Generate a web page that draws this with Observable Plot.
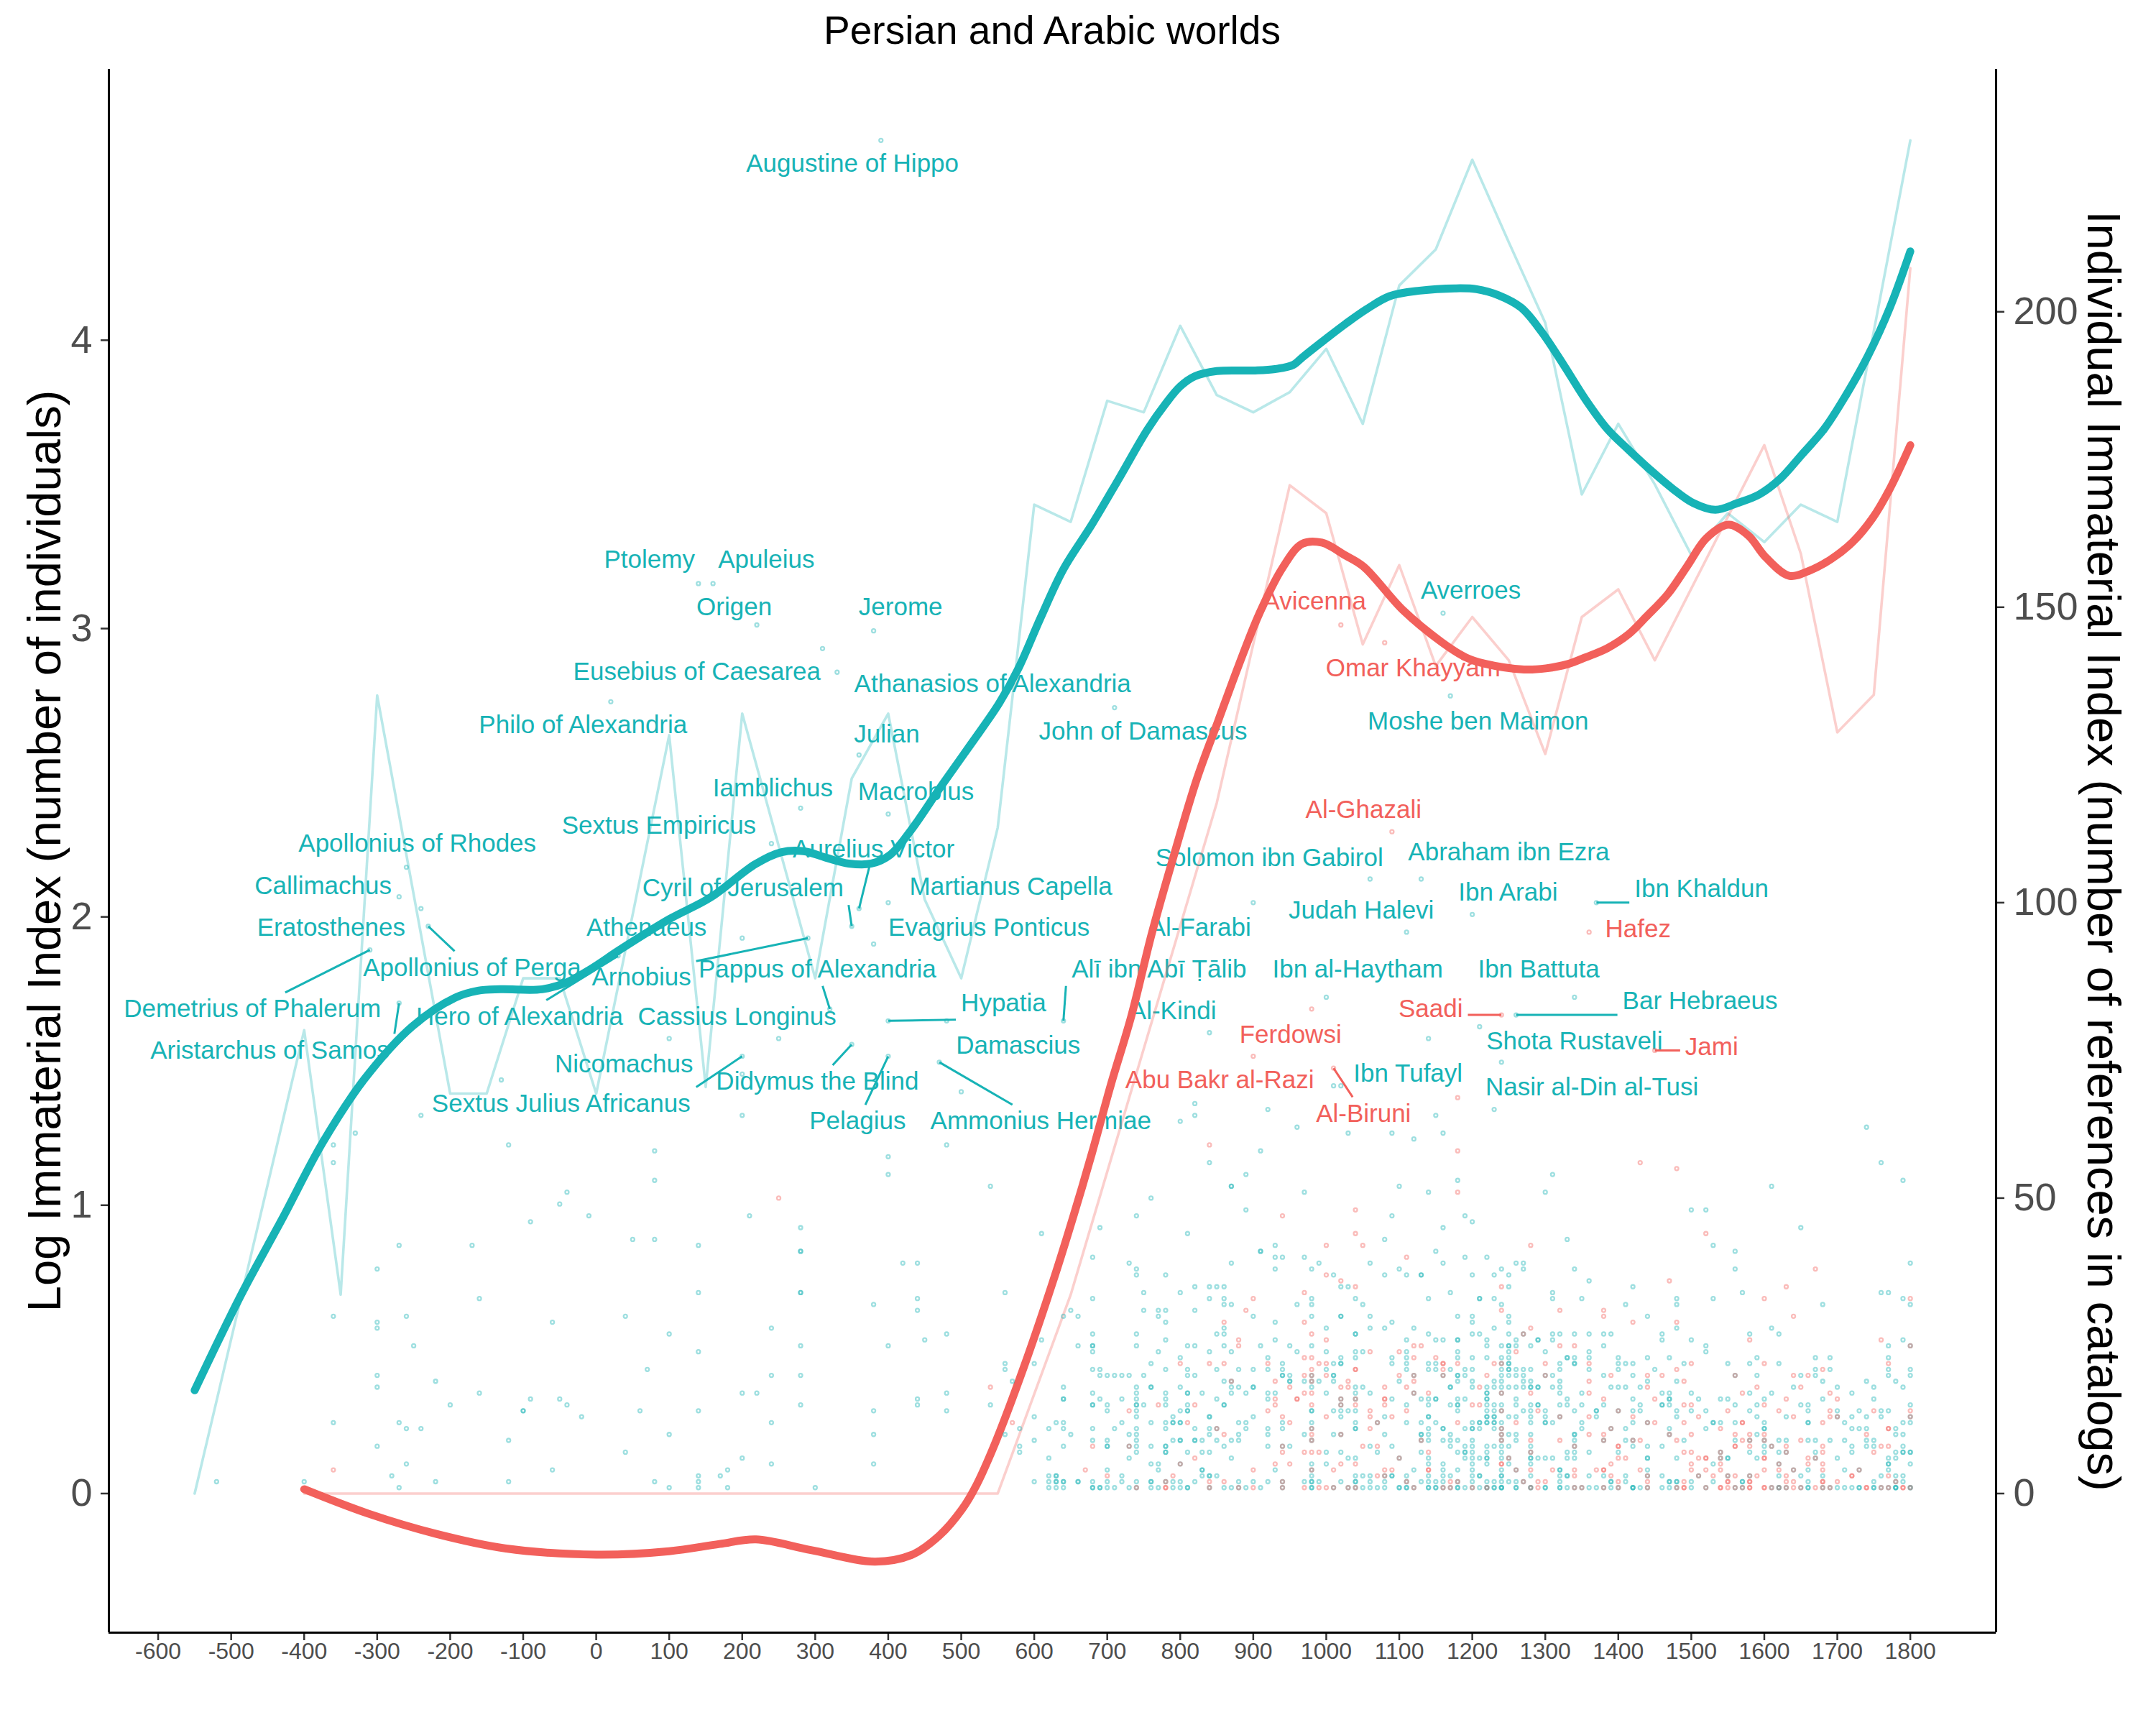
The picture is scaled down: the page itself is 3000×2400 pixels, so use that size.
<!DOCTYPE html>
<html><head><meta charset="utf-8">
<script src="https://cdn.jsdelivr.net/npm/d3@7"></script>
<script src="https://cdn.jsdelivr.net/npm/@observablehq/plot@0.6"></script>
<style>
html,body{margin:0;padding:0;background:#fff;}
body{font-family:"Liberation Sans",Arial,Helvetica,sans-serif;}
#title{box-sizing:border-box;width:3000px;height:84px;padding-left:151px;padding-right:223px;display:flex;align-items:center;justify-content:center;font-size:55px;color:#000;}
</style></head><body>
<div id="title"></div>
<div id="chart"></div>
<script>
// ---------------- DATA ----------------
const chartTitle = "Persian and Arabic worlds";
const leftAxisTitle = "Log Immaterial Index (number of individuals)";
const rightAxisTitle = "Individual Immaterial Index (number of references in catalogs)";
const xTickValues = [-600,-500,-400,-300,-200,-100,0,100,200,300,400,500,600,700,800,900,1000,1100,1200,1300,1400,1500,1600,1700,1800];
const leftTickValues = [0,1,2,3,4];
const rightTickValues = [0,50,100,150,200];

// raw (thin) series, log index per period
const tealRawYears  = [-550,-400,-350,-300,-200,-150,-100,-50,0,100,150,200,300,350,400,450,500,550,600,650,700,750,800,850,900,950,1000,1050,1100,1150,1200,1250,1300,1350,1400,1450,1500,1550,1600,1650,1700,1800];
const tealRawValues = [0,1.607,0.69,2.768,1.387,1.387,1.787,1.787,1.387,2.63,1.41,2.705,1.787,2.48,2.705,2.06,1.787,2.31,3.43,3.37,3.79,3.75,4.05,3.81,3.75,3.82,3.97,3.71,4.19,4.315,4.626,4.34,4.06,3.465,3.71,3.50,3.255,3.40,3.30,3.43,3.37,4.693];
const redRawYears  = [-400,550,650,850,950,1000,1050,1100,1150,1200,1250,1300,1350,1400,1450,1600,1650,1700,1750,1800];
const redRawValues = [0,0,0.69,2.395,3.497,3.40,2.945,3.22,2.87,3.04,2.89,2.565,3.04,3.136,2.89,3.636,3.26,2.64,2.77,4.25];

// smoothed (thick) series
const tealSmoothYears  = [-550,-487,-430,-374,-317,-252,-193,-162,-131,-74,-41,-7,33,100,157,218,253,284,315,346,377,403,431,473,513,552,578,609,640,679,716,755,780,800,820,850,900,930,955,967,997,1027,1056,1087,1128,1176,1206,1236,1267,1295,1325,1355,1385,1414,1444,1474,1503,1533,1563,1593,1622,1652,1682,1712,1742,1772,1800];
const tealSmoothValues = [0.358,0.686,0.953,1.22,1.439,1.62,1.72,1.744,1.749,1.749,1.772,1.82,1.887,1.992,2.068,2.183,2.224,2.228,2.205,2.185,2.185,2.216,2.30,2.455,2.598,2.741,2.86,3.039,3.206,3.361,3.52,3.69,3.78,3.84,3.875,3.893,3.895,3.90,3.915,3.94,4.00,4.058,4.109,4.153,4.172,4.18,4.177,4.156,4.113,4.029,3.915,3.795,3.692,3.62,3.55,3.486,3.435,3.412,3.435,3.465,3.52,3.605,3.692,3.81,3.946,4.113,4.308];
const redSmoothYears  = [-400,-313,-219,-125,0,100,169,219,294,382,432,470,501,521,547,586,626,654,679,705,733,761,789,823,852,880,908,939,967,994,1026,1051,1105,1158,1191,1217,1271,1301,1331,1355,1385,1414,1438,1468,1494,1521,1551,1578,1602,1634,1661,1691,1721,1748,1772,1800];
const redSmoothValues = [0.015,-0.069,-0.14,-0.19,-0.212,-0.2,-0.175,-0.159,-0.196,-0.236,-0.213,-0.146,-0.055,0.03,0.178,0.44,0.738,0.965,1.18,1.418,1.656,1.942,2.193,2.48,2.68,2.872,3.05,3.206,3.294,3.298,3.254,3.215,3.064,2.953,2.90,2.878,2.858,2.862,2.877,2.90,2.932,2.98,3.04,3.12,3.215,3.314,3.36,3.323,3.247,3.183,3.20,3.24,3.30,3.382,3.485,3.636];

// individuals: [year, reference counts...]
const tealPoints = [
[-520,2],[-400,2],[-360,12,30,56,59],[-330,61],[-300,8,18,20,28,29,38],[-280,3],[-270,1,12,42],[-260,5,11,30],[-250,25],[-240,11,64],[-220,2,19],[-200,15],[-170,42],[-160,17,33],[-130,70],[-120,2,9,59],[-100,14,14],[-90,16,46],[-60,4,29],[-50,16,49],[-40,15,51],[-20,13],[-10,47],
[40,7,30],[50,43],[60,14],[70,21],[80,2,43,53,58],[100,1,10,27],[140,1,2,3,14,24,34,42],[170,3],[180,1,4],[200,6,17,64,71],[210,47],[220,17],[240,5,12,20,28],[280,15,20,25,34,34,41,41,45],[300,1],[380,5,10,14,32],[400,25,54,57],[420,39],[440,15,16,31,33,39],[450,26],[480,14,17,27,59],[500,68],[540,15,52],
[560,10,21,22,34],[570,19],[580,7,8,11],[600,2,9,13,22],[610,26,44],[620,1,2,3,6,11],[630,1,2,2,3,3,12],[640,1,2,2,8,11,12,16,16,18,30],[650,10,31],[660,2,2,25,30],[680,1,1,2,9,11,15,15,17,21,24,25,25,27,33,40],[690,1,1,16,20,21,45],[700,1,2,4,8,8,9,14,15,20],[710,1,11,20],[720,2,3,12,16,20],[730,1,6,8,10,20,39],[740,1,2,7,8,9,10,11,13,14,15,15,16,17,18,25,27,37,38,47],[750,15,20,31,34],[760,1,2,2,5,8,12,18,18,22,50],[770,1,4,5,24,30,31],[780,2,7,7,8,8,11,12,15,16,17,21,26,29,31,37],[790,1,2,9,12,12,13],[800,1,2,5,9,9,12,12,14,18,23,34,63],[810,1,1,7,14,14,15,17,17,20,21,25,44],[820,2,9,9,11,20,25,31,35,64,66],[830,3,4,4,7,9,17],[840,1,3,3,7,10,11,13,13,24,33,35,56],[850,3,9,11,16,21,27,35],[860,1,8,15,15,19,25,27,28,32,33,35],[870,1,6,9,17,18,19,24,32,39,52,52],[880,1,2,9,10,12,18,21],[890,1,11,12,17,48,54],[900,2,13,18,18,21,30],[910,1,25,41,41,58],[920,2,8,10,11,16,17,21,23,65],[930,4,17,26,29,38,40,42],[940,1,2,8,11,12,20,20,21,22,40],[950,8,19,19,20,25],[960,24,32,62],[970,2,10,19,40,51],[980,1,1,2,2,3,4,5,9,11,12,14,14,18,19,20,25,30,32,33,38],[990,2,19,39],
[1000,5,7,17,21,24,28],[1010,1,10,14,19,20,20,22,37,69],[1020,2,7,10,13,14,15,16,22,22,23,30,30,35,69],[1030,1,6,14,35,61],[1040,1,2,2,3,6,11,11,12,14,16,17,18,23,24,27,27,33],[1050,1,3,18,24,32],[1060,1,2,3,8,17,28,30,39],[1070,1,7,12],[1080,1,2,3,10,13,28,37,43],[1090,3,3,8,16,22,23,29,47,61],[1100,1,1,6,19,38,52],[1110,1,1,2,3,12,15,21,22,23,24,26,37],[1120,1,4,17,20,28,60],[1130,2,7,9,10,10,12,16,37,37],[1140,1,1,2,3,5,6,9,10,11,13,13,15,16,21,22,27,33,51],[1150,1,1,2,12,16,16,21,22,26,41,64],[1160,1,2,3,4,5,9,11,11,20,26,39,45,61],[1170,1,3,8,9,10,15,18,18,21,34],[1180,1,1,2,4,7,9,14,15,15,16,19,20,20,23,24,26,26,30,53],[1190,1,6,7,7,8,11,16,20,21,40,47],
[1200,1,2,3,4,5,6,7,8,9,11,11,12,18,19,21,23,27,29,30,37,46],[1210,1,3,3,6,11,12,12,27,33,33],[1220,1,1,2,5,6,6,7,8,12,12,13,13,14,15,16,16,17,17,18,23,25,26,40],[1230,1,1,2,8,11,12,12,13,13,14,15,18,19,28,33,37,65],[1240,1,1,1,2,3,3,4,6,7,8,9,10,11,12,14,15,17,18,19,20,21,22,23,25,32,38],[1250,2,5,6,8,10,13,18,20,21,21,22,22,23,24,25,25,27,29,30,35,37],[1260,1,1,2,4,9,10,13,15,16,18,20,21,25,26,39],[1270,2,14,18,19,20,21,27,38,39],[1280,1,1,3,5,6,6,7,8,10,12,13,14,15,18,18,19,21,25],[1290,6,15,15,18,18,26,26],[1300,1,1,6,12,12,13,14,20,24,51],[1310,6,12,18,20,26,27,33,34,54],[1320,1,1,2,3,4,4,13,15,17,18,19,21,22,27],[1330,1,3,3,6,7,15,16,23,23,43],[1340,1,6,7,8,9,10,10,14,22,22,23,27,38],[1350,1,11,12,15,17,33],[1360,1,3,7,21,23,24,27,36],[1370,1,13,14,14],[1380,1,3,9,15,20,25,27],[1390,1,2,2,11,18,27],[1400,1,7,14,18,21,22,23],[1410,2,3,9,11,18,22,32],[1420,1,1,1,8,9,12,14,16,20,22,35],[1430,1,14,15,18],[1440,1,3,4,6,6,8,12,19,23,30],[1450,21],[1460,1,3,8,15,15,17,26,27],[1470,1,2,2,10,11,15,16,16,17,23],[1480,1,2,2,6,13,14,19,28,32,33],[1490,9,22],[1500,1,2,14,17,26,48],[1510,3,16],[1520,1,11,14,24,25,48],[1530,2,5,12,12,33,42],[1540,6,7,12,16],[1550,3,6,6,16,22],[1560,1,9,12,15,20,38,41],[1570,1,2,2,34],[1580,3,7,9,14,17,22,27],[1590,6,10,13,15,20,23],[1600,7,8,9,11,11,12,16],[1610,1,8,17,28,52],[1620,1,1,3,5,7,9,22,27],[1630,1,7,9,13],[1640,4,18],[1650,1,3,15,20,45],[1660,1,1,2,4,9,12,12,14,15],[1670,6,7,9,20,21,23],[1680,1,3,16,19,32],[1690,1,9,21,23],[1700,1,6,13,14,18],[1710,1,4,9,12],[1720,1,7,8,11,13,17],[1730,1,1,4,11,14],[1740,8,9,11,13,19,62],[1750,1,1,2,8,9,16,18],[1760,1,3,13,14,34,56],[1770,1,4,5,5,6,14,20,21,23,25,34],[1780,1,1,1,2,3,6,7,10,11,19],[1790,2,3,7,7,8,10,12,18,26,33,53],[1800,1,1,5,7,7,12,13,15,20,21,25,32,39]
];
const redPoints = [
[-360,4],[250,50],[540,18],[570,12],[670,4],[680,8],[700,3],[730,8,14],[740,1],[770,15],[780,1,1,2],[790,3],[800,5,22],[810,12],[820,6,15],[840,1,2,22,59],[850,11],[860,2,10,22,29],[870,19],[880,1,25,26],[890,31],[900,1,4,33],[920,14,22],[930,5,15,16,19],[940,1,2,7,8,13,47],[950,5,12,18],[960,16,16],[970,1,7,17,20,23,29,34],[980,4,7,9,10,11,15,17,19,20,21,23,27],[990,1,7,22],
[1000,1,13,20,22,26,37,42],[1010,1,4],[1020,5,10,15,16,18,36],[1030,1,18,19],[1040,1,5,15,16,21,21,35,44,48],[1050,8,42],[1060,11,13,14,24],[1070,3,8,12],[1080,3,4,15,16,16,18],[1090,4,13],[1100,6,20,24],[1110,2,14,18,40],[1120,1,17,19,20,23,25],[1130,9,25],[1140,4,4,7,17],[1150,23],[1160,1,20,21,22,22],[1170,1,2],[1180,2,12,22,51,58,67],
[1200,1,15],[1210,15,18],[1220,1,20],[1230,22],[1240,5,5,9,10,11,14,17,22,31,35],[1250,6],[1260,4,12,24],[1270,2,27],[1280,1,4,7,9,17,28,42],[1290,1,2,14],[1300,2,20,22],[1310,4],[1320,9,13,25,31],[1340,1,3,4,8,25],[1350,1],[1360,10,13,17,19,22],[1370,4],[1380,1,4,4,9,10,16,30,31],[1390,3,5,11,20],[1400,1,2,6,8,8,14],[1410,6],[1420,9,13,29],[1430,4,9,56],[1440,1,2,3,12,18,20],[1450,12,16],[1460,20],[1470,10,36],[1480,1,9,21,29,55],[1490,1,1,2,7,12,15,19],[1500,4,5,7,10,15,22],[1510,3,6,13],[1520,1,4,6,6,44],[1530,3],[1540,1,1,4,5,6,7,11],[1550,1,2,2,3,14],[1560,1,3,8,8,10,20],[1570,1,9,12,12,17],[1580,1,1,2,2,3,8,9,10,26],[1590,3,18],[1600,1,1,4,6,6,9,10,15,22,33],[1610,1,8],[1620,1,4,5,14],[1630,1,2,3,7,8,16,35],[1640,1,2,4,13,20,30],[1650,1,9,18],[1660,5,6,20],[1670,1,6,38],[1680,1,2,2,4,5,7,8,12,21],[1690,1,13,14,17],[1700,2,13,16],[1720,3,3],[1730,4],[1740,1,1,10],[1750,7,14],[1760,1,8,26],[1770,1,3,8,11,11,22],[1780,2],[1790,1,1],[1800,1,13,14,25,33]
];

// labelled individuals: [name, group, year, references, label year, label position (references)]
const labelRows = [
["Augustine of Hippo","t",390,229,351,225],
["Ptolemy","t",140,154,73,158],
["Apuleius","t",160,154,233,158],
["Origen","t",220,147,189,150],
["Jerome","t",380,146,417,150],
["Eusebius of Caesarea","t",310,143,138,139],
["Athanasios of Alexandria","t",330,139,543,137],
["Philo of Alexandria","t",20,134,-18,130],
["John of Damascus","t",710,133,749,129],
["Julian","t",360,125,398,128.5],
["Iamblichus","t",280,116,242,119.3],
["Macrobius","t",400,115,438,118.7],
["Sextus Empiricus","t",240,110,86,113],
["Apollonius of Rhodes","t",-260,106,-245,110],
["Aurelius Victor","t",360,99,380,109],
["Cyril of Jerusalem","t",350,96,201,102.4],
["Martianus Capella","t",400,100,568,102.7],
["Callimachus","t",-270,101,-374,102.8],
["Eratosthenes","t",-240,99,-363,95.7],
["Apollonius of Perga","t",-230,96,-170,89],
["Demetrius of Phalerum","t",-310,92,-471,82],
["Aristarchus of Samos","t",-270,83,-447,75],
["Athenaeus","t",200,94,69,95.7],
["Hero of Alexandria","t",30,91,-105,80.7],
["Arnobius","t",290,94,62,87.3],
["Pappus of Alexandria","t",320,82,303,88.7],
["Evagrius Ponticus","t",380,93,538,95.7],
["Cassius Longinus","t",250,77,193,80.7],
["Hypatia","t",400,80,558,83],
["Nicomachus","t",100,77,38,72.7],
["Sextus Julius Africanus","t",200,74,-48,66],
["Didymus the Blind","t",350,76,303,69.7],
["Pelagius","t",400,74,358,63],
["Ammonius Hermiae","t",470,73,609,63],
["Damascius","t",480,80,578,75.8],
["Alī ibn Abī Ṭālib","t",640,80,771,88.7],
["Al-Farabi","t",900,100,827,95.7],
["Al-Kindi","t",840,78,790,81.7],
["Solomon ibn Gabirol","t",1060,104,922,107.5],
["Abraham ibn Ezra","t",1130,104,1250,108.5],
["Judah Halevi","t",1110,95,1048,98.7],
["Ibn Arabi","t",1200,98,1249,101.7],
["Ibn Khaldun","t",1370,100,1514,102.3],
["Ibn al-Haytham","t",1000,84,1043,88.7],
["Ibn Battuta","t",1340,84,1291,88.7],
["Bar Hebraeus","t",1260,81,1512,83.3],
["Shota Rustaveli","t",1210,79,1340,76.5],
["Nasir al-Din al-Tusi","t",1240,73,1364,68.7],
["Ibn Tufayl","t",1140,77,1112,71],
["Averroes","t",1160,149,1198,152.8],
["Moshe ben Maimon","t",1170,135,1208,130.7],
["Avicenna","p",1020,147,984,151],
["Omar Khayyam","p",1080,144,1119,139.7],
["Al-Ghazali","p",1090,112,1051,115.7],
["Hafez","p",1360,95,1427,95.5],
["Saadi","p",1240,81,1143,82],
["Jami","p",1450,75,1528,75.6],
["Ferdowsi","p",980,82,951,77.6],
["Al-Biruni","p",1010,72,1051,64.3],
["Abu Bakr al-Razi","p",900,74,854,70]
];
const leaderNames = ["Apollonius of Perga","Demetrius of Phalerum","Aristarchus of Samos","Hero of Alexandria","Arnobius","Pappus of Alexandria","Aurelius Victor","Cyril of Jerusalem","Hypatia","Sextus Julius Africanus","Didymus the Blind","Pelagius","Ammonius Hermiae","Alī ibn Abī Ṭālib","Ibn Khaldun","Bar Hebraeus","Saadi","Jami","Al-Biruni"];

// ---------------- STYLE ----------------
const FONT = '"Liberation Sans", Arial, Helvetica, sans-serif';
const groupColor = {t: "#17B3B6", p: "#F2605B"};
const W = 3000, H = 2316;
const mL = 151, mR = 223, mT = 12, mB = 129;
const LABEL_SIZE = 35;

// ---------------- BUILD ----------------
const K = d3.max(labelRows, d => d[3]) / d3.max(tealRawValues); // secondary-axis factor
const zip = (ys, vs, g) => ys.map((x, i) => ({year: x, v: vs[i], group: g}));
const tealRaw = zip(tealRawYears, tealRawValues, "t");
const redRaw = zip(redRawYears, redRawValues, "p");
const tealSmooth = zip(tealSmoothYears, tealSmoothValues, "t");
const redSmooth = zip(redSmoothYears, redSmoothValues, "p");
const explode = (rows, g) => rows.flatMap(([yr, ...cs]) => cs.map(c => ({year: yr, v: c / K, group: g})));
const labels = labelRows.map(([name, group, year, count, lx, ly]) => ({name, group, year, v: count / K, lx, ly: ly / K}));
const points = [...explode(tealPoints, "t"), ...explode(redPoints, "p"), ...labels.map(d => ({year: d.year, v: d.v, group: d.group}))];

const expand = ([a, b]) => [a - (b - a) * 0.05, b + (b - a) * 0.05];
const allSeries = [...tealRaw, ...redRaw, ...tealSmooth, ...redSmooth, ...points];
const xDomain = expand(d3.extent(allSeries, d => d.year));
const yDomain = expand(d3.extent(allSeries, d => d.v));

// leader segments: point -> label box (nearest box point when the point lies beside the box,
// otherwise where the point-to-centre line meets the box)
const xs = d3.scaleLinear(xDomain, [mL, W - mR]);
const ys = d3.scaleLinear(yDomain, [H - mB, mT]);
const ctx = document.createElement("canvas").getContext("2d");
ctx.font = `${LABEL_SIZE}px ${FONT}`;
const clamp = (v, a, b) => Math.max(a, Math.min(b, v));
const leaders = labels.filter(d => leaderNames.includes(d.name)).map(d => {
  const px = xs(d.year), py = ys(d.v), cx = xs(d.lx), cy = ys(d.ly);
  const hw = ctx.measureText(d.name).width / 2 + 7, hh = 23;
  const dx = px - cx, dy = py - cy;
  let ex, ey;
  if (Math.abs(dx) > hw) {
    ex = clamp(px, cx - hw, cx + hw); ey = clamp(py, cy - hh, cy + hh);
  } else {
    const t = Math.min(dx ? hw / Math.abs(dx) : Infinity, dy ? hh / Math.abs(dy) : Infinity);
    ex = cx + dx * t; ey = cy + dy * t;
  }
  return {x1: d.year, y1: d.v, x2: xs.invert(ex), y2: ys.invert(ey), group: d.group};
});
const col = d => groupColor[d.group];

const chart = Plot.plot({
  width: W, height: H,
  marginLeft: mL, marginRight: mR, marginTop: mT, marginBottom: mB,
  style: {fontFamily: FONT, background: "#fff", overflow: "visible"},
  x: {domain: xDomain, axis: null},
  y: {domain: yDomain, axis: null},
  marks: [
    Plot.link(leaders, {x1: "x1", y1: "y1", x2: "x2", y2: "y2", stroke: col, strokeWidth: 3}),
    Plot.text(labels, {x: "lx", y: "ly", text: "name", fill: col, fontSize: LABEL_SIZE}),
    Plot.line(tealRaw, {x: "year", y: "v", stroke: groupColor.t, strokeOpacity: 0.3, strokeWidth: 3.6}),
    Plot.line(redRaw, {x: "year", y: "v", stroke: groupColor.p, strokeOpacity: 0.3, strokeWidth: 3.6}),
    Plot.line(tealSmooth, {x: "year", y: "v", stroke: groupColor.t, strokeWidth: 11, curve: "catmull-rom"}),
    Plot.line(redSmooth, {x: "year", y: "v", stroke: groupColor.p, strokeWidth: 11, curve: "catmull-rom"}),
    Plot.dot(points, {x: "year", y: "v", r: 2.5, stroke: col, strokeOpacity: 0.42, strokeWidth: 2.3, fill: "none"}),
    Plot.axisX(xTickValues, {anchor: "bottom", tickSize: 11, tickPadding: 3, fontSize: 32, stroke: "#333", fill: "#4D4D4D", strokeWidth: 2.5, label: null, tickFormat: d => String(d)}),
    Plot.axisY(leftTickValues, {anchor: "left", tickSize: 11, tickPadding: 12, fontSize: 54, stroke: "#333", fill: "#4D4D4D", strokeWidth: 2.5, label: null, tickFormat: d => String(d)}),
    Plot.axisY(rightTickValues.map(r => r / K), {anchor: "right", tickSize: 11, tickPadding: 13, fontSize: 54, stroke: "#333", fill: "#4D4D4D", strokeWidth: 2.5, label: null, tickFormat: d => String(Math.round(d * K))}),
    Plot.ruleX([xDomain[0], xDomain[1]], {stroke: "#000", strokeWidth: 3}),
    Plot.ruleY([yDomain[0]], {stroke: "#000", strokeWidth: 3}),
    Plot.text([leftAxisTitle], {frameAnchor: "left", textAnchor: "middle", lineAnchor: "middle", dx: -88, rotate: -90, fontSize: 65, fill: "#000"}),
    Plot.text([rightAxisTitle], {frameAnchor: "right", textAnchor: "middle", lineAnchor: "middle", dx: 148, rotate: 90, fontSize: 65, fill: "#000"})
  ]
});
document.getElementById("title").textContent = chartTitle;
document.getElementById("chart").appendChild(chart);
</script>
</body></html>
